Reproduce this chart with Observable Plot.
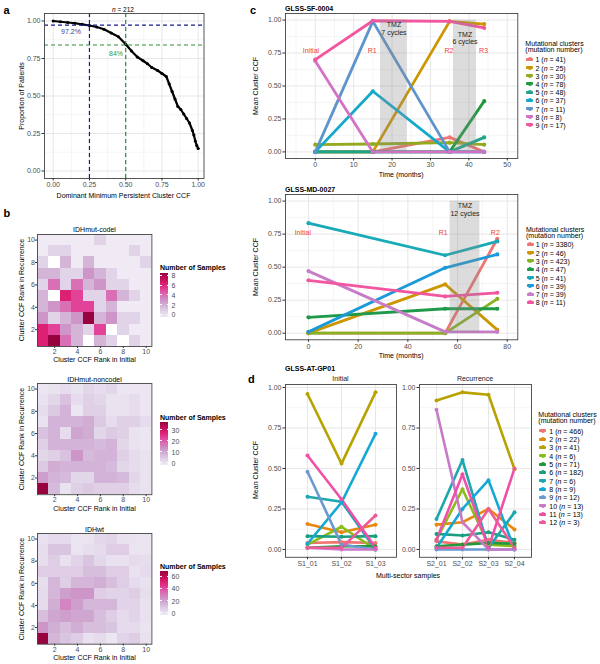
<!DOCTYPE html>
<html><head><meta charset="utf-8">
<script src="https://cdn.jsdelivr.net/npm/d3@7"></script>
<script src="https://cdn.jsdelivr.net/npm/@observablehq/plot@0.6"></script>
<style>
body{margin:0;background:#fff;}
#root{position:relative;width:600px;height:664px;overflow:hidden;font-family:"Liberation Sans",Arial,Helvetica,sans-serif;color:#000;}
.t{position:absolute;white-space:nowrap;line-height:1;}
</style></head><body><div id="root"></div>
<script>
// ================= DATA =================
// Panel a: dominant minimum persistent cluster CCF vs proportion of patients
const ccfGrid = [0, 0.05, 0.1, 0.15, 0.2, 0.25, 0.3, 0.35, 0.4, 0.45, 0.5, 0.54, 0.58, 0.62, 0.65, 0.68, 0.72, 0.75, 0.78, 0.8, 0.82, 0.84, 0.86, 0.88, 0.9, 0.92, 0.94, 0.96, 0.97, 0.98, 0.99, 1.0];
const patientProportion = [1.0, 0.995, 0.99, 0.985, 0.978, 0.97, 0.96, 0.945, 0.92, 0.895, 0.845, 0.8, 0.76, 0.735, 0.715, 0.69, 0.67, 0.65, 0.63, 0.58, 0.53, 0.48, 0.43, 0.41, 0.38, 0.35, 0.32, 0.27, 0.24, 0.2, 0.17, 0.15];
const cutoffCCF = [0.25, 0.5];
const cutoffProportion = [0.972, 0.84];
const cutoffLabels = ["97.2%", "84%"];
const unitTicks = [0, 0.25, 0.5, 0.75, 1];
const unitMinor = [0.125, 0.375, 0.625, 0.875];
const nPatients = 212;

// Panel b: heatmaps, rows = rank in recurrence 10..1, columns = rank in initial 1..10 (null = no tile)
const rankTicks = [2, 4, 6, 8, 10];
const codelCounts = [
  [0,0,0,0,0,1,0,0,0,0],
  [0,1,1,0,0,0,0,0,1,0],
  [1,null,2,0,2,0,0,0,0,1],
  [2,2,1,1,3,2,1,0,0,0],
  [1,4,1,4,2,3,1,1,0,0],
  [2,null,6,5,1,1,4,2,1,0],
  [2,3,4,5,5,1,2,0,0,0],
  [3,1,2,3,8,2,3,1,1,0],
  [6,5,3,2,1,5,null,1,0,0],
  [6,8,4,2,null,2,1,null,1,0]
];
const noncodelCounts = [
  [1,2,3,2,4,3,4,1,1,1],
  [2,4,7,3,5,4,2,2,3,1],
  [3,6,9,1,5,5,2,2,3,1],
  [2,9,9,9,10,6,3,5,5,3],
  [7,9,3,11,10,4,6,5,2,1],
  [5,9,9,9,9,8,9,4,2,1],
  [4,5,7,13,8,9,9,5,3,2],
  [6,10,9,9,9,9,8,4,3,2],
  [12,9,8,4,4,9,9,8,4,2],
  [35,8,2,5,6,5,5,5,3,2]
];
const wtCounts = [
  [4,6,6,3,3,7,8,4,3,3],
  [5,12,12,3,5,6,10,10,3,3],
  [5,10,4,8,12,7,4,4,6,5],
  [10,10,10,10,14,14,10,10,4,6],
  [5,16,10,16,16,18,14,10,6,4],
  [6,16,22,24,24,10,8,8,10,5],
  [6,18,28,22,16,16,16,8,8,4],
  [14,20,22,20,20,14,10,6,8,4],
  [24,18,14,18,14,14,12,6,6,3],
  [65,16,12,10,4,6,2,8,10,4]
];
const heatmapTitles = ["IDHmut-codel", "IDHmut-noncodel", "IDHwt"];
const codelLegendTicks = [0, 2, 4, 6, 8];
const noncodelLegendTicks = [0, 10, 20, 30];
const wtLegendTicks = [0, 20, 40, 60];

// Panel c (top): GLSS-SF-0004
const sfTimes = [0, 15, 35, 44];
const sfTimeLabels = ["Initial", "R1", "R2", "R3"];
const sfClusterN = [41, 25, 30, 78, 48, 37, 11, 8, 17];
const sfCCF = [
  [0.00, 0.00, 0.11, 0.00],
  [0.00, 0.00, 0.99, 0.97],
  [0.055, 0.06, 0.07, 0.055],
  [0.00, 0.00, 0.00, 0.385],
  [0.00, 0.00, 0.00, 0.11],
  [0.00, 0.46, 0.00, 0.00],
  [0.00, 0.99, 0.00, 0.00],
  [0.69, 0.00, 0.00, 0.00],
  [0.70, 0.995, 0.99, 0.94]
];
const sfTmzStart = [17, 36];
const sfTmzEnd = [24, 42];
const sfTmzCycles = ["7 cycles", "6 cycles"];
const sfTimeTicks = [0, 10, 20, 30, 40, 50];
const sfTimeMinor = [-5, 5, 15, 25, 35, 45];

// Panel c (bottom): GLSS-MD-0027
const mdTimes = [0, 55, 76];
const mdTimeLabels = ["Initial", "R1", "R2"];
const mdClusterN = [3380, 46, 423, 47, 41, 39, 39, 11];
const mdCCF = [
  [0.00, 0.00, 0.715],
  [0.00, 0.37, 0.025],
  [0.00, 0.00, 0.26],
  [0.12, 0.185, 0.185],
  [0.833, 0.59, 0.695],
  [0.01, 0.495, 0.596],
  [0.47, 0.01, 0.01],
  [0.40, 0.278, 0.306]
];
const mdTmzStart = [57];
const mdTmzEnd = [69];
const mdTmzCycles = ["12 cycles"];
const mdTimeTicks = [0, 20, 40, 60, 80];
const mdTimeMinor = [10, 30, 50, 70];

// Panel d: GLSS-AT-GP01 multi-sector
const dInitialSamples = ["S1_01", "S1_02", "S1_03"];
const dRecurrenceSamples = ["S2_01", "S2_02", "S2_03", "S2_04"];
const dClusterN = [466, 22, 41, 6, 71, 182, 6, 9, 12, 13, 13, 3];
const dInitialCCF = [
  [0.04, 0.045, 0.04],
  [0.157, 0.106, 0.153],
  [0.96, 0.53, 0.97],
  [0.03, 0.14, 0.00],
  [0.01, 0.02, 0.02],
  [0.082, 0.078, 0.082],
  [0.325, 0.295, 0.00],
  [0.035, 0.29, 0.714],
  [0.48, 0.03, 0.00],
  [0.01, 0.00, 0.00],
  [0.58, 0.31, 0.01],
  [0.01, 0.01, 0.21]
];
const dRecurrenceCCF = [
  [0.05, 0.03, 0.06, 0.04],
  [0.153, 0.168, 0.25, 0.123],
  [0.92, 0.97, 0.955, 0.495],
  [0.06, 0.372, 0.03, 0.02],
  [0.02, 0.03, 0.04, 0.035],
  [0.096, 0.086, 0.106, 0.06],
  [0.188, 0.552, 0.01, 0.229],
  [0.01, 0.25, 0.428, 0.00],
  [0.00, 0.00, 0.00, 0.00],
  [0.863, 0.168, 0.00, 0.00],
  [0.06, 0.464, 0.01, 0.50],
  [0.01, 0.01, 0.25, 0.01]
];

// ================= STYLE =================
const FONT = '"Liberation Sans", Arial, Helvetica, sans-serif';
const cTopColors = ["#F07470","#CD9600","#93AA1F","#1E9A3C","#1FA58C","#12A9CC","#5E94CC","#D273C6","#F2569F"];
const cBotColors = ["#F07470","#CD9600","#86B31F","#1E9A4A","#18ABB5","#1A9AD8","#C77CC8","#F2569F"];
const dColors = ["#F07470","#E8870E","#B8A200","#8CBC1A","#1E9A3C","#1A9E7E","#1AA8AE","#14A8D4","#6A9AD0","#C87AC8","#F050A8","#EE5A9A"];
const heatInterp = t => d3.interpolatePuRd(0.06 + 0.82 * t);
const GRID = "#e4e4e4", GRIDMINOR = "#efefef", FRAME = "#444", AXTXT = "#4d4d4d";

const root = document.getElementById("root");

function txt(s, x, y, o = {}) {
  const d = document.createElement("div");
  d.className = "t";
  d.innerHTML = s;
  d.style.fontSize = (o.size || 7) + "px";
  if (o.bold) d.style.fontWeight = "bold";
  if (o.italic) d.style.fontStyle = "italic";
  if (o.lh) d.style.lineHeight = o.lh;
  d.style.color = o.color || "#000";
  d.style.left = x + "px";
  d.style.top = y + "px";
  const ax = o.anchor === "start" ? "0" : o.anchor === "end" ? "-100%" : "-50%";
  d.style.transform = `translate(${ax}, -50%)` + (o.rotate ? ` rotate(${o.rotate}deg)` : "");
  root.appendChild(d);
  return d;
}

function placePlot(frame, options) {
  const [x0, y0, x1, y1] = frame;
  const L = 34, T = 8, R = 8, B = 18;
  const svg = Plot.plot({
    width: x1 - x0 + L + R, height: y1 - y0 + T + B,
    marginLeft: L, marginTop: T, marginRight: R, marginBottom: B,
    style: {fontFamily: FONT, fontSize: "7px", background: "transparent", overflow: "visible"},
    ...options
  });
  svg.style.position = "absolute";
  svg.style.left = (x0 - L) + "px";
  svg.style.top = (y0 - T) + "px";
  svg.style.maxWidth = "none";
  root.appendChild(svg);
  return svg;
}

const axOpts = {tickSize: 2.5, tickPadding: 1.5, fontSize: 7, fill: AXTXT, stroke: "#333", label: null};
const heatAxOpts = {...axOpts, tickSize: 2, tickPadding: 0.5};
const f2 = d3.format(".2f");

// ================= PANEL A =================
const curve = ccfGrid.map((x, i) => ({x, p: patientProportion[i]}));
placePlot([43.5, 13.2, 203, 178.2], {
  x: {domain: [-0.06, 1.04]},
  y: {domain: [-0.05, 1.05]},
  marks: [
    Plot.ruleX(unitMinor, {stroke: GRIDMINOR, strokeWidth: 0.6}),
    Plot.ruleY(unitMinor, {stroke: GRIDMINOR, strokeWidth: 0.6}),
    Plot.ruleX(unitTicks, {stroke: GRID, strokeWidth: 0.9}),
    Plot.ruleY(unitTicks, {stroke: GRID, strokeWidth: 0.9}),
    Plot.line(curve, {x: "x", y: "p", stroke: "#000", strokeWidth: 2.2}),
    Plot.dot(curve, {x: "x", y: "p", fill: "#000", r: 1.6}),
    Plot.ruleX([cutoffCCF[0]], {stroke: "#1a1a8c", strokeWidth: 1.2, strokeDasharray: "4,3"}),
    Plot.ruleY([cutoffProportion[0]], {stroke: "#1a1a8c", strokeWidth: 1.2, strokeDasharray: "4,3"}),
    Plot.ruleX([cutoffCCF[1]], {stroke: "#2e8b3e", strokeWidth: 1.2, strokeDasharray: "4,3"}),
    Plot.ruleY([cutoffProportion[1]], {stroke: "#2e8b3e", strokeWidth: 1.2, strokeDasharray: "4,3"}),
    Plot.text([cutoffLabels[0]], {x: cutoffCCF[0] - 0.127, y: cutoffProportion[0] - 0.045, text: d => d, fill: "#3a3a9a", fontSize: 7}),
    Plot.text([cutoffLabels[1]], {x: cutoffCCF[1] - 0.067, y: cutoffProportion[1] - 0.057, text: d => d, fill: "#2e9a3e", fontSize: 7}),
    Plot.frame({stroke: FRAME, strokeWidth: 0.9}),
    Plot.axisX(unitTicks, {...axOpts, tickFormat: f2}),
    Plot.axisY(unitTicks, {...axOpts, tickFormat: f2})
  ]
});
txt(`<i>n</i> = ${nPatients}`, 123, 9.5, {size: 6.5});
txt("Proportion of Patients", 20.5, 95.5, {rotate: -90});
txt("Dominant Minimum Persistent Cluster CCF", 123.5, 194.5);

// ================= PANEL B =================
function heatmap(counts, title, frame, legendTicks, leg) {
  const cells = [];
  counts.forEach((row, i) => row.forEach((n, j) => {
    if (n !== null) cells.push({c: j + 1, r: counts.length - i, n});
  }));
  const vmax = d3.max(cells, d => d.n);
  placePlot(frame, {
    x: {domain: [0.5, 10.5]},
    y: {domain: [0.5, 10.5]},
    color: {type: "linear", domain: [0, vmax], interpolate: heatInterp},
    marks: [
      Plot.rect(cells, {x1: d => d.c - 0.5, x2: d => d.c + 0.5, y1: d => d.r - 0.5, y2: d => d.r + 0.5, fill: "n", inset: 0, shapeRendering: "crispEdges"}),
      Plot.frame({stroke: FRAME, strokeWidth: 0.9}),
      Plot.axisX(rankTicks, {...heatAxOpts}),
      Plot.axisY(rankTicks, {...heatAxOpts})
    ]
  });
  const [x0, y0, x1, y1] = frame;
  txt(title, (x0 + x1) / 2, y0 - 4.5);
  txt("Cluster CCF Rank in Recurrence", 20.5, (y0 + y1) / 2, {rotate: -90});
  txt("Cluster CCF Rank in Initial", (x0 + x1) / 2, y1 + 13.2);
  // legend
  txt("Number of Samples", 160, leg.title, {anchor: "start", bold: true});
  const bar = document.createElement("div");
  bar.style.position = "absolute";
  bar.style.left = "160px"; bar.style.width = "8.3px";
  bar.style.top = leg.top + "px"; bar.style.height = (leg.bottom - leg.top) + "px";
  const stops = d3.range(0, 1.0001, 0.1).map(t => `${heatInterp(t)} ${t * 100}%`);
  bar.style.background = `linear-gradient(to top, ${stops.join(",")})`;
  root.appendChild(bar);
  const inset = 2.4;
  legendTicks.forEach(v => {
    const y = leg.bottom - inset - v / vmax * (leg.bottom - leg.top - 2 * inset);
    const tk = document.createElement("div");
    tk.style.cssText = `position:absolute;left:160px;width:1.8px;height:0.6px;background:#fff;top:${y - 0.3}px`;
    root.appendChild(tk);
    const tk2 = tk.cloneNode(); tk2.style.left = "166.5px"; root.appendChild(tk2);
    txt(String(v), 171.5, y, {anchor: "start", color: AXTXT});
  });
}
heatmap(codelCounts, heatmapTitles[0], [37.3, 233.5, 151.7, 345.5], codelLegendTicks, {title: 267.3, top: 272.7, bottom: 316.7});
heatmap(noncodelCounts, heatmapTitles[1], [37.3, 383.3, 151.7, 494.5], noncodelLegendTicks, {title: 416.7, top: 421.7, bottom: 465});
heatmap(wtCounts, heatmapTitles[2], [37.3, 533.3, 151.7, 644], wtLegendTicks, {title: 566, top: 571, bottom: 615});

// ================= PANEL C =================
function rowsFrom(xs, ccf) {
  const rows = [];
  ccf.forEach((vals, i) => vals.forEach((v, j) => rows.push({cluster: String(i + 1), x: xs[j], v})));
  return rows;
}
function lineLegend(x, keyX, textX, titleY, firstY, step, ns, colors) {
  txt("Mutational clusters<br>(mutation number)", x, titleY, {anchor: "start", lh: 0.85});
  ns.forEach((n, i) => {
    const y = firstY + i * step;
    const k = document.createElement("div");
    k.style.cssText = `position:absolute;left:${keyX}px;top:${y - 1.5}px;width:7px;height:3px;background:${colors[i]};border-radius:1px`;
    root.appendChild(k);
    const dot = document.createElement("div");
    dot.style.cssText = `position:absolute;left:${keyX + 1.5}px;top:${y - 2}px;width:4px;height:4px;background:${colors[i]};border-radius:50%`;
    root.appendChild(dot);
    txt(`${i + 1} (<i>n</i> = ${n})`, textX, y, {anchor: "start", color: "#000"});
  });
}
function timePanel(cfg) {
  const rows = rowsFrom(cfg.times, cfg.ccf);
  const clusters = cfg.ccf.map((_, i) => String(i + 1));
  const tmz = cfg.tmzStart.map((s, i) => ({s, e: cfg.tmzEnd[i], label: "TMZ\n" + cfg.tmzCycles[i], ty: cfg.tmzY[i]}));
  const labs = cfg.labels.map((l, i) => ({l, t: cfg.times[i]}));
  placePlot(cfg.frame, {
    x: {domain: cfg.xDomain},
    y: {domain: [-0.05, 1.05]},
    color: {domain: clusters, range: cfg.colors},
    marks: [
      Plot.ruleX(cfg.minor, {stroke: GRIDMINOR, strokeWidth: 0.6}),
      Plot.ruleY(unitMinor, {stroke: GRIDMINOR, strokeWidth: 0.6}),
      Plot.ruleX(cfg.ticks, {stroke: GRID, strokeWidth: 0.9}),
      Plot.ruleY(unitTicks, {stroke: GRID, strokeWidth: 0.9}),
      Plot.line(rows, {x: "x", y: "v", stroke: "cluster", strokeWidth: 2.8, strokeLinejoin: "round"}),
      Plot.dot(rows, {x: "x", y: "v", fill: "cluster", r: 2.1}),
      Plot.rect(tmz, {x1: "s", x2: "e", y1: 0, y2: 1, fill: "#8c8c8c", fillOpacity: 0.3}),
      Plot.text(tmz, {x: d => (d.s + d.e) / 2, y: "ty", text: "label", lineAnchor: "top", lineHeight: 1.05, fontSize: 7, fill: "#222"}),
      Plot.text(labs, {x: d => d.t + 1, y: cfg.labelY, text: "l", textAnchor: "end", fill: "#f03c3c", fontSize: 7}),
      Plot.frame({stroke: FRAME, strokeWidth: 0.9}),
      Plot.axisX(cfg.ticks, {...axOpts}),
      Plot.axisY(unitTicks, {...axOpts, tickFormat: f2})
    ]
  });
  const [x0, y0, x1, y1] = cfg.frame;
  txt(cfg.title, x0, y0 - 5, {anchor: "start", bold: true});
  txt("Mean Cluster CCF", 254.5, (y0 + y1) / 2, {rotate: -90});
  txt("Time (months)", (x0 + x1) / 2, y1 + 15.5);
}
timePanel({
  title: "GLSS-SF-0004", frame: [285, 13.3, 517.3, 158.3], xDomain: [-7.75, 52.75],
  times: sfTimes, labels: sfTimeLabels, ccf: sfCCF, colors: cTopColors,
  tmzStart: sfTmzStart, tmzEnd: sfTmzEnd, tmzCycles: sfTmzCycles, tmzY: [0.985, 0.915],
  labelY: 0.765, ticks: sfTimeTicks, minor: sfTimeMinor
});
lineLegend(525.3, 526, 535.5, 47.2, 59.3, 8.2, sfClusterN, cTopColors);

timePanel({
  title: "GLSS-MD-0027", frame: [285, 194, 517.3, 339.3], xDomain: [-9.25, 84.25],
  times: mdTimes, labels: mdTimeLabels, ccf: mdCCF, colors: cBotColors,
  tmzStart: mdTmzStart, tmzEnd: mdTmzEnd, tmzCycles: mdTmzCycles, tmzY: [0.985],
  labelY: 0.758, ticks: mdTimeTicks, minor: mdTimeMinor
});
lineLegend(526, 526.7, 535.7, 232.9, 244.3, 8.3, mdClusterN, cBotColors);

// ================= PANEL D =================
function samplePanel(samples, ccf, frame, strip) {
  const rows = rowsFrom(samples, ccf);
  const clusters = ccf.map((_, i) => String(i + 1));
  placePlot(frame, {
    x: {type: "point", domain: samples, padding: 0.6},
    y: {domain: [-0.0485, 1.0185]},
    color: {domain: clusters, range: dColors},
    marks: [
      Plot.ruleY(unitMinor, {stroke: GRIDMINOR, strokeWidth: 0.6}),
      Plot.ruleX(samples, {stroke: GRID, strokeWidth: 0.9}),
      Plot.ruleY(unitTicks, {stroke: GRID, strokeWidth: 0.9}),
      Plot.line(rows, {x: "x", y: "v", stroke: "cluster", strokeWidth: 2.6, strokeLinejoin: "round"}),
      Plot.dot(rows, {x: "x", y: "v", fill: "cluster", r: 2}),
      Plot.frame({stroke: FRAME, strokeWidth: 0.9}),
      Plot.axisX({...axOpts}),
      Plot.axisY(unitTicks, {...axOpts, tickFormat: f2})
    ]
  });
  txt(strip, (frame[0] + frame[2]) / 2, frame[1] - 6.5, {color: "#1a1a1a"});
}
samplePanel(dInitialSamples, dInitialCCF, [285, 384, 396, 556.8], "Initial");
samplePanel(dRecurrenceSamples, dRecurrenceCCF, [419, 384, 531, 556.8], "Recurrence");
txt("GLSS-AT-GP01", 285, 368, {anchor: "start", bold: true});
txt("Mean Cluster CCF", 254.5, 470.4, {rotate: -90});
txt("Multi-sector samples", 408, 575);
lineLegend(538.3, 539, 549.3, 418.3, 430.7, 8.33, dClusterN, dColors);

// ================= PANEL LETTERS =================
txt("a", 3.5, 9.5, {anchor: "start", bold: true, size: 11});
txt("b", 3.5, 213.3, {anchor: "start", bold: true, size: 11});
txt("c", 250, 9.5, {anchor: "start", bold: true, size: 11});
txt("d", 248, 379.3, {anchor: "start", bold: true, size: 11});
</script></body></html>
